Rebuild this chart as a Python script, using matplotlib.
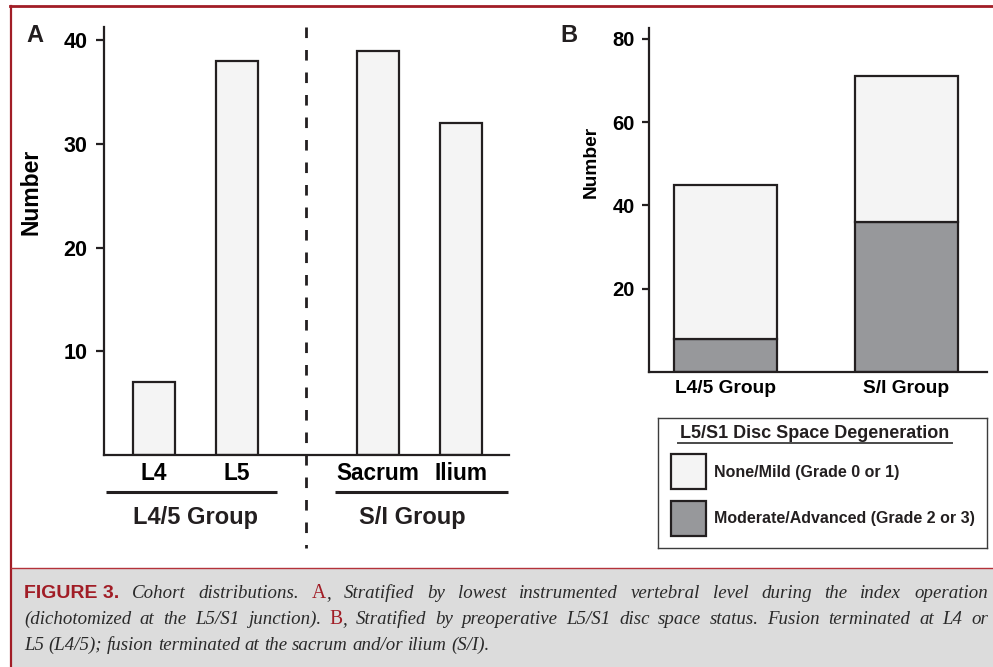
#!/usr/bin/env python3
"""
Figure 3: cohort distributions (panel A: lowest instrumented level,
panel B: L5/S1 disc space degeneration), with the journal caption below.
"""

import matplotlib
matplotlib.use("Agg")
import matplotlib.pyplot as plt
from matplotlib.lines import Line2D
from matplotlib.patches import Rectangle

# ---- data -------------------------------------------------------------
levels_a = ['L4', 'L5', 'Sacrum', 'Ilium']
counts_a = [7, 38, 39, 32]
groups_a = ['L4/5 Group', 'S/I Group']
yticks_a = [10, 20, 30, 40]

groups_b = ['L4/5 Group', 'S/I Group']
severe_b = [8, 36]     # Moderate/Advanced (Grade 2 or 3)
mild_b = [37, 35]      # None/Mild (Grade 0 or 1)
yticks_b = [20, 40, 60, 80]

legend_title = 'L5/S1 Disc Space Degeneration'
legend_labels = ['None/Mild (Grade 0 or 1)', 'Moderate/Advanced (Grade 2 or 3)']

# ---- style ------------------------------------------------------------
W, H = 993, 667
INK = '#231f20'
LIGHT = '#f4f4f4'
DARK = '#97989b'
RED = '#a11d26'
CAPTION_BG = '#dcdcdc'
SANS = 'Liberation Sans'

plt.rcParams['font.family'] = [SANS, 'DejaVu Sans']
plt.rcParams['text.color'] = INK


def add_axes_px(fig, left, top, right, bottom):
    """Add axes using pixel coordinates measured from the top-left corner."""
    return fig.add_axes([left / W, 1 - bottom / H, (right - left) / W, (bottom - top) / H])


def style_axes(ax, tick_len, tick_pad, tick_size):
    for side in ('top', 'right'):
        ax.spines[side].set_visible(False)
    for side in ('left', 'bottom'):
        ax.spines[side].set_linewidth(1.6)
        ax.spines[side].set_color(INK)
    ax.tick_params(axis='y', direction='out', length=tick_len, width=1.6,
                   color=INK, pad=tick_pad, labelsize=tick_size)
    ax.tick_params(axis='x', length=0)
    for lab in ax.get_yticklabels():
        lab.set_fontweight('bold')


fig = plt.figure(figsize=(W / 100, H / 100), dpi=100)
fig.patch.set_facecolor('white')

# ---- panel A ----------------------------------------------------------
xa = [0, 1, 2.7, 3.7]
axA = add_axes_px(fig, 104, 27, 509, 455)
axA.bar(xa, counts_a, width=0.5, color=LIGHT, edgecolor=INK, linewidth=1.6)
axA.set_xlim(-0.60, 4.28)
axA.set_ylim(0, 41.3)
axA.set_yticks(yticks_a)
style_axes(axA, 6, 6, 15.5)
axA.set_xticks(xa)
axA.set_xticklabels(levels_a, fontsize=16.3, fontweight='bold')
axA.tick_params(axis='x', pad=5)
axA.set_ylabel('Number', fontsize=16.5, fontweight='bold')
axA.yaxis.set_label_coords(-0.151, 0.614)

xform = axA.get_xaxis_transform()
group_spans = [(xa[0] - 0.58, xa[1] + 0.49), (xa[2] - 0.52, xa[3] + 0.57)]
group_centers = [(xa[0] + xa[1]) / 2, (xa[2] + xa[3]) / 2 - 0.08]
for name, (x0, x1), xc in zip(groups_a, group_spans, group_centers):
    axA.plot([x0, x1], [-0.0864, -0.0864], transform=xform, clip_on=False,
             color=INK, lw=2.2, solid_capstyle='butt')
    axA.text(xc, -0.147, name, transform=xform, ha='center', va='center',
             fontsize=17, fontweight='bold')

# dashed separator between the two groups
axA.plot([1.83, 1.83], [1.0, -0.217], transform=xform, clip_on=False,
         color=INK, lw=2.0, linestyle=(0, (3.8, 4.3)))

# ---- panel B ----------------------------------------------------------
xb = [0, 1]
axB = add_axes_px(fig, 649, 28, 987, 372)
axB.bar(xb, severe_b, width=0.57, color=DARK, edgecolor=INK, linewidth=1.6)
axB.bar(xb, mild_b, bottom=severe_b, width=0.57, color=LIGHT, edgecolor=INK, linewidth=1.6)
axB.set_xlim(-0.423, 1.445)
axB.set_ylim(0, 82.6)
axB.set_yticks(yticks_b)
style_axes(axB, 5, 5, 14.5)
axB.set_xticks(xb)
axB.set_xticklabels(groups_b, fontsize=13.8, fontweight='bold')
axB.tick_params(axis='x', pad=6)
axB.set_ylabel('Number', fontsize=13.8, fontweight='bold')
axB.yaxis.set_label_coords(-0.145, 0.61)

# legend box for panel B
axL = add_axes_px(fig, 658, 418, 987, 548)
axL.set_xlim(0, 329)
axL.set_ylim(130, 0)
axL.set_xticks([])
axL.set_yticks([])
for sp in axL.spines.values():
    sp.set_linewidth(1.0)
    sp.set_color('#3c3c3c')
axL.text(157, 15, legend_title, ha='center', va='center', fontsize=13, fontweight='bold')
axL.plot([20, 294], [24.5, 24.5], color='#4a4a4a', lw=1.4)
for (key_top, key_col, label) in zip([36, 83], [LIGHT, DARK], legend_labels):
    axL.add_patch(Rectangle((13, key_top), 35, 35, facecolor=key_col,
                            edgecolor=INK, linewidth=1.6))
    axL.text(56, key_top + 18, label, ha='left', va='center', fontsize=11.5, fontweight='bold')

# panel letters
fig.text(35 / W, 1 - 36 / H, 'A', ha='center', va='center', fontsize=17, fontweight='bold')
fig.text(569 / W, 1 - 35 / H, 'B', ha='center', va='center', fontsize=17, fontweight='bold')

# ---- frame and caption ------------------------------------------------
fig.add_artist(Rectangle((11 / W, 0), 1 - 11 / W, 1 - 568 / H, transform=fig.transFigure,
                         facecolor=CAPTION_BG, edgecolor='none', zorder=0))
fig.add_artist(Line2D([10 / W, 1], [1 - 6 / H, 1 - 6 / H], color=RED, lw=2.0))
fig.add_artist(Line2D([11 / W, 11 / W], [0, 1 - 6 / H], color=RED, lw=1.6))
fig.add_artist(Line2D([11 / W, 1], [1 - 567.5 / H, 1 - 567.5 / H], color='#b4323a', lw=1.0))

CAP_SIZE = 13.6
ital = dict(family=['Liberation Serif', 'DejaVu Serif'], style='italic', fontsize=CAP_SIZE, color='#2a2a2a')
roman_red = dict(family=['Liberation Serif', 'DejaVu Serif'], fontsize=CAP_SIZE + 0.5, color=RED)
head = dict(family=['Liberation Sans Narrow', SANS], fontweight='bold', fontsize=14, color=RED)


def words(s):
    return [[(w, ital)] for w in s.split()]


caption_lines = [
    ([[('FIGURE 3.', head)]] + words('Cohort distributions.') + [[('A', roman_red), (',', ital)]]
     + words('Stratified by lowest instrumented vertebral level during the index operation'), True),
    (words('(dichotomized at the L5/S1 junction).') + [[('B', roman_red), (',', ital)]]
     + words('Stratified by preoperative L5/S1 disc space status. Fusion terminated at L4 or'), True),
    (words('L5 (L4/5); fusion terminated at the sacrum and/or ilium (S/I).'), False),
]
baselines = [598, 624, 650]

renderer = fig.canvas.get_renderer()
x_left, x_right = 24, 988
for (line, justify), base in zip(caption_lines, baselines):
    placed = []
    for word in line:
        runs = []
        for txt, props in word:
            t = fig.text(0, 1 - base / H, txt, va='baseline', ha='left', **props)
            runs.append((t, t.get_window_extent(renderer).width))
        placed.append(runs)
    total = sum(w for runs in placed for _, w in runs)
    natural = 0.25 * CAP_SIZE * 100 / 72
    gap = (x_right - x_left - total) / (len(placed) - 1) if justify else natural
    gap = max(gap, 1.5)
    x = x_left
    for runs in placed:
        for t, w in runs:
            t.set_x(x / W)
            x += w
        x += gap

fig.savefig('out.png', dpi=100)
